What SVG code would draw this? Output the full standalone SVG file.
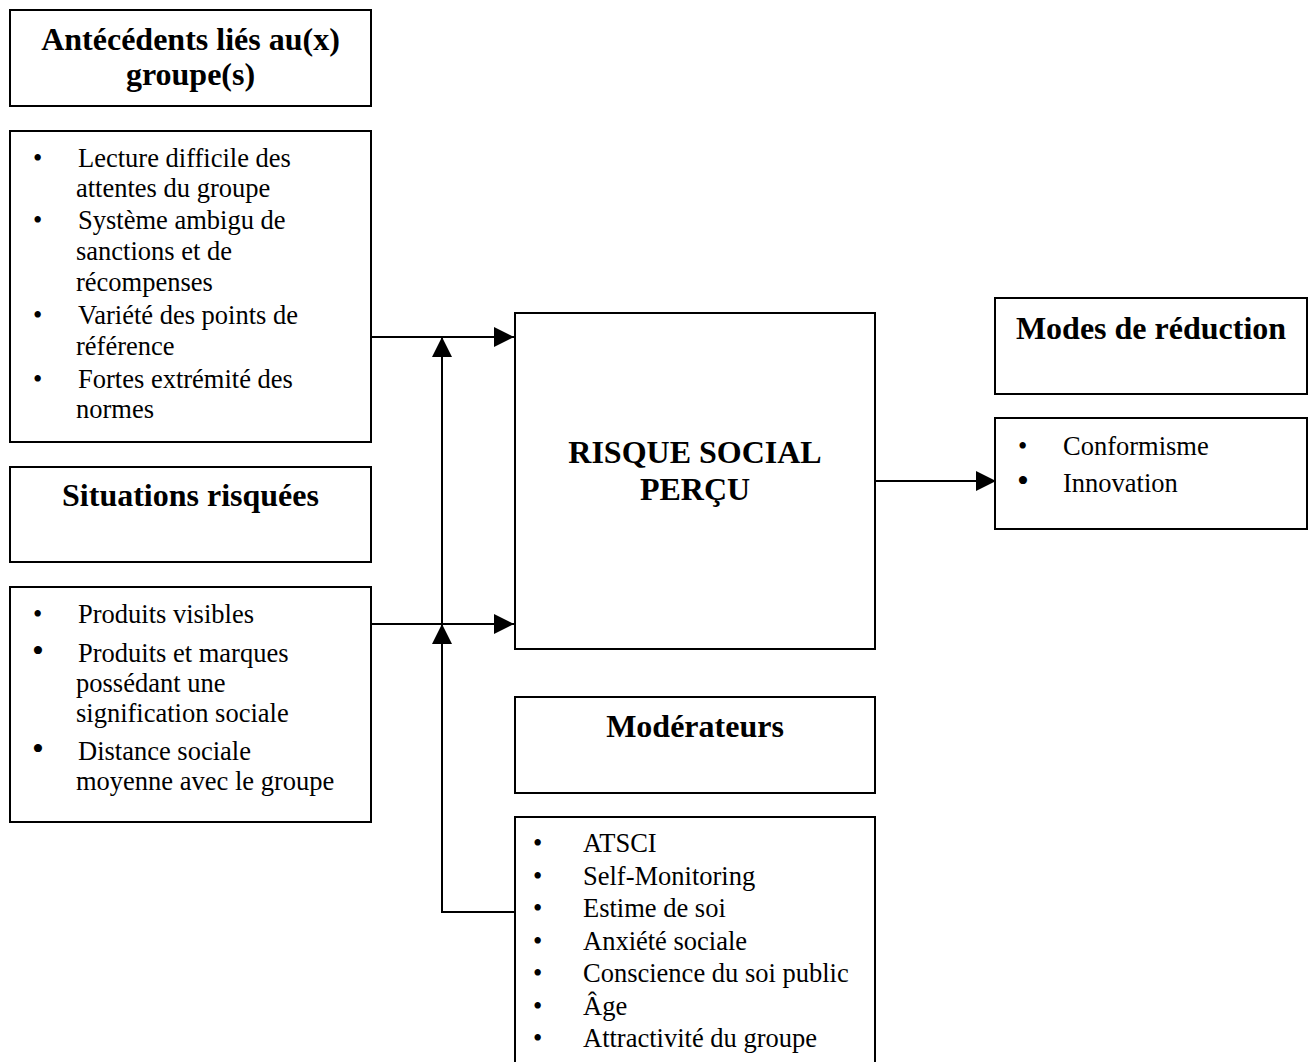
<svg xmlns="http://www.w3.org/2000/svg" width="1316" height="1062" viewBox="0 0 1316 1062">
<style>
.box{fill:#fff;stroke:#000;stroke-width:2}
.t{font-family:"Liberation Serif","Times New Roman",serif;font-size:32px;font-weight:bold;fill:#000;text-anchor:middle}
.b{font-family:"Liberation Serif","Times New Roman",serif;font-size:26.5px;fill:#000}
.bl{font-family:"Liberation Serif","Times New Roman",serif;font-size:26.5px;fill:#000}
.bb{font-family:"Liberation Serif","Times New Roman",serif;font-size:34px;fill:#000}
.c{fill:none;stroke:#000;stroke-width:2}
</style>
<defs>
<marker id="ah" viewBox="0 0 20 20" refX="20" refY="10" markerWidth="20" markerHeight="20" markerUnits="userSpaceOnUse" orient="auto">
<path d="M0,0 L20,10 L0,20 z" fill="#000"/>
</marker>
</defs>
<rect width="1316" height="1062" fill="#fff"/>

<g id="connectors">
<path class="c" d="M371,337 H514" marker-end="url(#ah)"/>
<path class="c" d="M371,624 H514" marker-end="url(#ah)"/>
<path class="c" d="M515,912 H442 V624" marker-end="url(#ah)"/>
<path class="c" d="M442,624 V337" marker-end="url(#ah)"/>
<path class="c" d="M875,481 H996" marker-end="url(#ah)"/>
</g>

<g id="antecedents-title">
<rect class="box" x="10" y="10" width="361" height="96"/>
<text class="t" x="190.5" y="50">Antécédents liés au(x)</text>
<text class="t" x="190.5" y="85">groupe(s)</text>
</g>

<g id="antecedents-list">
<rect class="box" x="10" y="131" width="361" height="311"/>
<text class="bl" x="33" y="167">•</text>
<text class="b" x="78" y="167">Lecture difficile des</text>
<text class="b" x="76" y="197">attentes du groupe</text>
<text class="bl" x="33" y="229">•</text>
<text class="b" x="78" y="229">Système ambigu de</text>
<text class="b" x="76" y="260">sanctions et de</text>
<text class="b" x="76" y="291">récompenses</text>
<text class="bl" x="33" y="324">•</text>
<text class="b" x="78" y="324">Variété des points de</text>
<text class="b" x="76" y="355">référence</text>
<text class="bl" x="33" y="388">•</text>
<text class="b" x="78" y="388">Fortes extrémité des</text>
<text class="b" x="76" y="418">normes</text>
</g>

<g id="situations-title">
<rect class="box" x="10" y="467" width="361" height="95"/>
<text class="t" x="190.5" y="506">Situations risquées</text>
</g>

<g id="situations-list">
<rect class="box" x="10" y="587" width="361" height="235"/>
<text class="bl" x="33" y="623">•</text>
<text class="b" x="78" y="623">Produits visibles</text>
<text class="bb" x="32" y="662">•</text>
<text class="b" x="78" y="662">Produits et marques</text>
<text class="b" x="76" y="692">possédant une</text>
<text class="b" x="76" y="722">signification sociale</text>
<text class="bb" x="32" y="760">•</text>
<text class="b" x="78" y="760">Distance sociale</text>
<text class="b" x="76" y="790">moyenne avec le groupe</text>
</g>

<g id="risque">
<rect class="box" x="515" y="313" width="360" height="336"/>
<text class="t" x="695" y="463">RISQUE SOCIAL</text>
<text class="t" x="695" y="500">PERÇU</text>
</g>

<g id="modes-title">
<rect class="box" x="995" y="298" width="312" height="96"/>
<text class="t" x="1151" y="339">Modes de réduction</text>
</g>

<g id="modes-list">
<rect class="box" x="995" y="418" width="312" height="111"/>
<text class="bl" x="1018" y="455">•</text>
<text class="b" x="1063" y="455">Conformisme</text>
<text class="bb" x="1017" y="492">•</text>
<text class="b" x="1063" y="492">Innovation</text>
</g>

<g id="moderateurs-title">
<rect class="box" x="515" y="697" width="360" height="96"/>
<text class="t" x="695" y="737">Modérateurs</text>
</g>

<g id="moderateurs-list">
<rect class="box" x="515" y="817" width="360" height="260"/>
<text class="bl" x="533" y="852">•</text>
<text class="b" x="583" y="852">ATSCI</text>
<text class="bl" x="533" y="884.5">•</text>
<text class="b" x="583" y="884.5">Self-Monitoring</text>
<text class="bl" x="533" y="917">•</text>
<text class="b" x="583" y="917">Estime de soi</text>
<text class="bl" x="533" y="949.5">•</text>
<text class="b" x="583" y="949.5">Anxiété sociale</text>
<text class="bl" x="533" y="982">•</text>
<text class="b" x="583" y="982">Conscience du soi public</text>
<text class="bl" x="533" y="1014.5">•</text>
<text class="b" x="583" y="1014.5">Âge</text>
<text class="bl" x="533" y="1047">•</text>
<text class="b" x="583" y="1047">Attractivité du groupe</text>
</g>
</svg>
